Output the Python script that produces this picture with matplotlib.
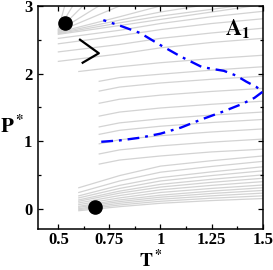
import numpy as np
import matplotlib
matplotlib.use("Agg")
import matplotlib.pyplot as plt
from matplotlib.ticker import MultipleLocator

plt.rcParams['font.family'] = ['Liberation Serif', 'DejaVu Serif']
plt.rcParams['font.weight'] = 'bold'
plt.rcParams['mathtext.fontset'] = 'stix'

# background isochores: start temperature, start pressure, then P at T* = 0.8, 1.0, 1.25, 1.5
iso_T0 = [0.6] * 13 + [0.7] * 9 + [0.6] + [0.5] * 4 + [0.5] * 9
iso_P0 = [-0.03, -0.015, 0.0, 0.02, 0.035, 0.06, 0.085, 0.11, 0.13, 0.16, 0.19, 0.24, 0.31,
          0.66, 0.81, 0.96, 1.10, 1.21, 1.37, 1.56, 1.74, 1.885,
          2.03,
          2.18, 2.32, 2.44, 2.52,
          2.58, 2.59, 2.60, 2.61, 2.62, 2.63, 2.64, 2.65, 2.66]
iso_P08 = [0.03, 0.055, 0.08, 0.105, 0.13, 0.16, 0.195, 0.23, 0.26, 0.30, 0.345, 0.41, 0.49,
           0.72, 0.87, 1.02, 1.16, 1.27, 1.43, 1.62, 1.80, 1.94,
           2.10,
           2.29, 2.43, 2.56, 2.64,
           2.71, 2.75, 2.79, 2.84, 3.0, 3.19, 3.54, 4.15, 5.96]
iso_P10 = [0.08, 0.11, 0.14, 0.17, 0.20, 0.24, 0.28, 0.32, 0.36, 0.41, 0.46, 0.54, 0.63,
           0.78, 0.93, 1.08, 1.22, 1.33, 1.49, 1.68, 1.86, 1.99,
           2.16,
           2.38, 2.52, 2.65, 2.74,
           2.80, 2.85, 2.91, 3.00, 3.25, 3.55, 4.14, 5.15, 8.2]
iso_P125 = [0.12, 0.155, 0.19, 0.225, 0.26, 0.30, 0.345, 0.39, 0.435, 0.49, 0.545, 0.625, 0.71,
            0.84, 0.985, 1.135, 1.275, 1.385, 1.545, 1.735, 1.915, 2.05,
            2.22,
            2.46, 2.60, 2.74, 2.84,
            2.91, 2.95, 3.03, 3.10, 3.38, 3.73, 4.6, 5.8, 9.6]
iso_P15 = [0.15, 0.19, 0.23, 0.27, 0.31, 0.35, 0.40, 0.45, 0.50, 0.56, 0.62, 0.70, 0.78,
           0.88, 1.03, 1.18, 1.32, 1.43, 1.59, 1.78, 1.96, 2.10,
           2.27,
           2.52, 2.67, 2.81, 2.92,
           3.02, 3.05, 3.15, 3.20, 3.50, 3.90, 5.0, 6.5, 11.0]
knot_T = [0.8, 1.0, 1.25, 1.5]

# blue dash-dot boundary
loop_T = [0.71, 0.80, 0.90, 1.0, 1.1, 1.2, 1.3, 1.4, 1.46, 1.5, 1.47, 1.42, 1.37,
          1.31, 1.25, 1.2, 1.1, 1.0, 0.9, 0.8, 0.72]
loop_P = [0.99, 1.01, 1.05, 1.11, 1.2, 1.32, 1.43, 1.55, 1.64, 1.73, 1.80, 1.88, 1.97,
          2.04, 2.07, 2.10, 2.25, 2.42, 2.60, 2.71, 2.79]

# black chevron
chev_T = [0.606, 0.698, 0.619]
chev_P = [2.50, 2.30, 2.16]

# filled points
dot_T = [0.532, 0.679]
dot_P = [2.745, 0.02]

fig = plt.figure(figsize=(2.73, 2.70), dpi=100)
ax = fig.add_axes([0.139, 0.152, 0.823, 0.826])

for i in range(len(iso_T0)):
    ts = [iso_T0[i]] + knot_T
    ps = [iso_P0[i], iso_P08[i], iso_P10[i], iso_P125[i], iso_P15[i]]
    ax.plot(ts, ps, color='#d3d3d3', lw=0.9, zorder=1)

ax.plot(loop_T, loop_P, color='#0000ff', lw=1.7, dashes=[5, 2.5, 1.2, 2.5], zorder=3)
ax.plot(chev_T, chev_P, color='black', lw=1.6, zorder=3)
ax.plot(dot_T, dot_P, 'o', color='black', ms=9.5, zorder=4)

ax.text(1.38, 2.66, r'$\mathbf{A_1}$', fontsize=16, ha='center', va='center')

ax.set_xlim(0.4, 1.5)
ax.set_ylim(-0.3, 3)
ax.set_xticks([0.5, 0.75, 1, 1.25, 1.5])
ax.set_xticklabels(['0.5', '0.75', '1', '1.25', '1.5'])
ax.set_yticks([0, 1, 2, 3])
ax.xaxis.set_minor_locator(MultipleLocator(0.125))
ax.yaxis.set_minor_locator(MultipleLocator(0.5))
ax.tick_params(which='both', direction='in', top=True, right=True, width=0.9)
ax.tick_params(which='major', length=3.8, labelsize=12)
ax.tick_params(axis='x', which='major', pad=2.5)
ax.tick_params(axis='y', which='major', pad=4)
ax.tick_params(which='minor', length=2.2)
for lab in ax.get_xticklabels() + ax.get_yticklabels():
    lab.set_fontweight('bold')
for sp in ax.spines.values():
    sp.set_linewidth(1.1)

ax.set_xlabel(r'$\mathbf{T^*}$', fontsize=14, va='center')
ax.xaxis.set_label_coords(0.5, -0.14)
ax.set_ylabel(r'$\mathbf{P^*}$', fontsize=15, rotation=0, va='center')
ax.yaxis.set_label_coords(-0.115, 0.46)

fig.savefig('out.png', dpi=100)
